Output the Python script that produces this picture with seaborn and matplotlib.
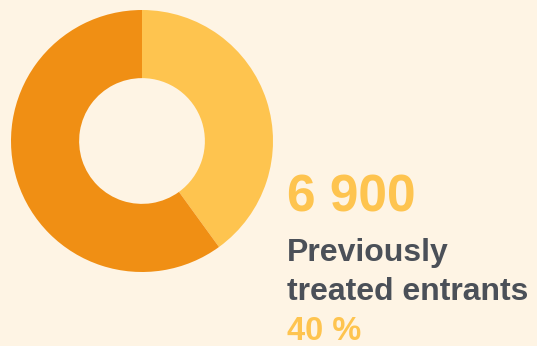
import seaborn as sns
import matplotlib.pyplot as plt

# share of entrants: previously treated vs. the rest
labels = ['Previously treated', 'Other']
shares = [40, 60]
colors = ['#FEC44F', '#F08F14']

count_text = '6 900'
label_text = 'Previously\ntreated entrants'
pct_text = '40 %'

bg = '#FEF4E4'
W, H = 537, 346

sns.set_theme(style='white')
plt.rcParams['font.family'] = ['Liberation Sans', 'DejaVu Sans']

fig = plt.figure(figsize=(W / 100, H / 100), dpi=100, facecolor=bg)

# donut: centre ~ (142, 141) px, outer radius ~131 px
cx, cy, r = 142, 141, 131
ax = fig.add_axes([(cx - r) / W, 1 - (cy + r) / H, 2 * r / W, 2 * r / H])
ax.set_facecolor(bg)
ax.pie(shares, colors=colors, startangle=90, counterclock=False,
       radius=1, wedgeprops=dict(width=0.52, linewidth=0))
ax.set_xlim(-1, 1)
ax.set_ylim(-1, 1)
ax.set_aspect('equal')
ax.axis('off')

x0 = 287 / W
fig.text(x0, 1 - 211 / H, count_text, color='#FEC44F', fontsize=37,
         fontweight='bold', va='baseline', ha='left')
line1, line2 = label_text.split('\n')
fig.text(x0, 1 - 261 / H, line1, color='#4B5058',
         fontsize=23, fontweight='bold', va='baseline', ha='left')
fig.text(x0, 1 - 300 / H, line2, color='#4B5058',
         fontsize=23, fontweight='bold', va='baseline', ha='left')
fig.text(x0, 1 - 340 / H, pct_text, color='#FEC44F', fontsize=23.5,
         fontweight='semibold', va='baseline', ha='left')

fig.savefig('out.png', dpi=100, facecolor=bg)
